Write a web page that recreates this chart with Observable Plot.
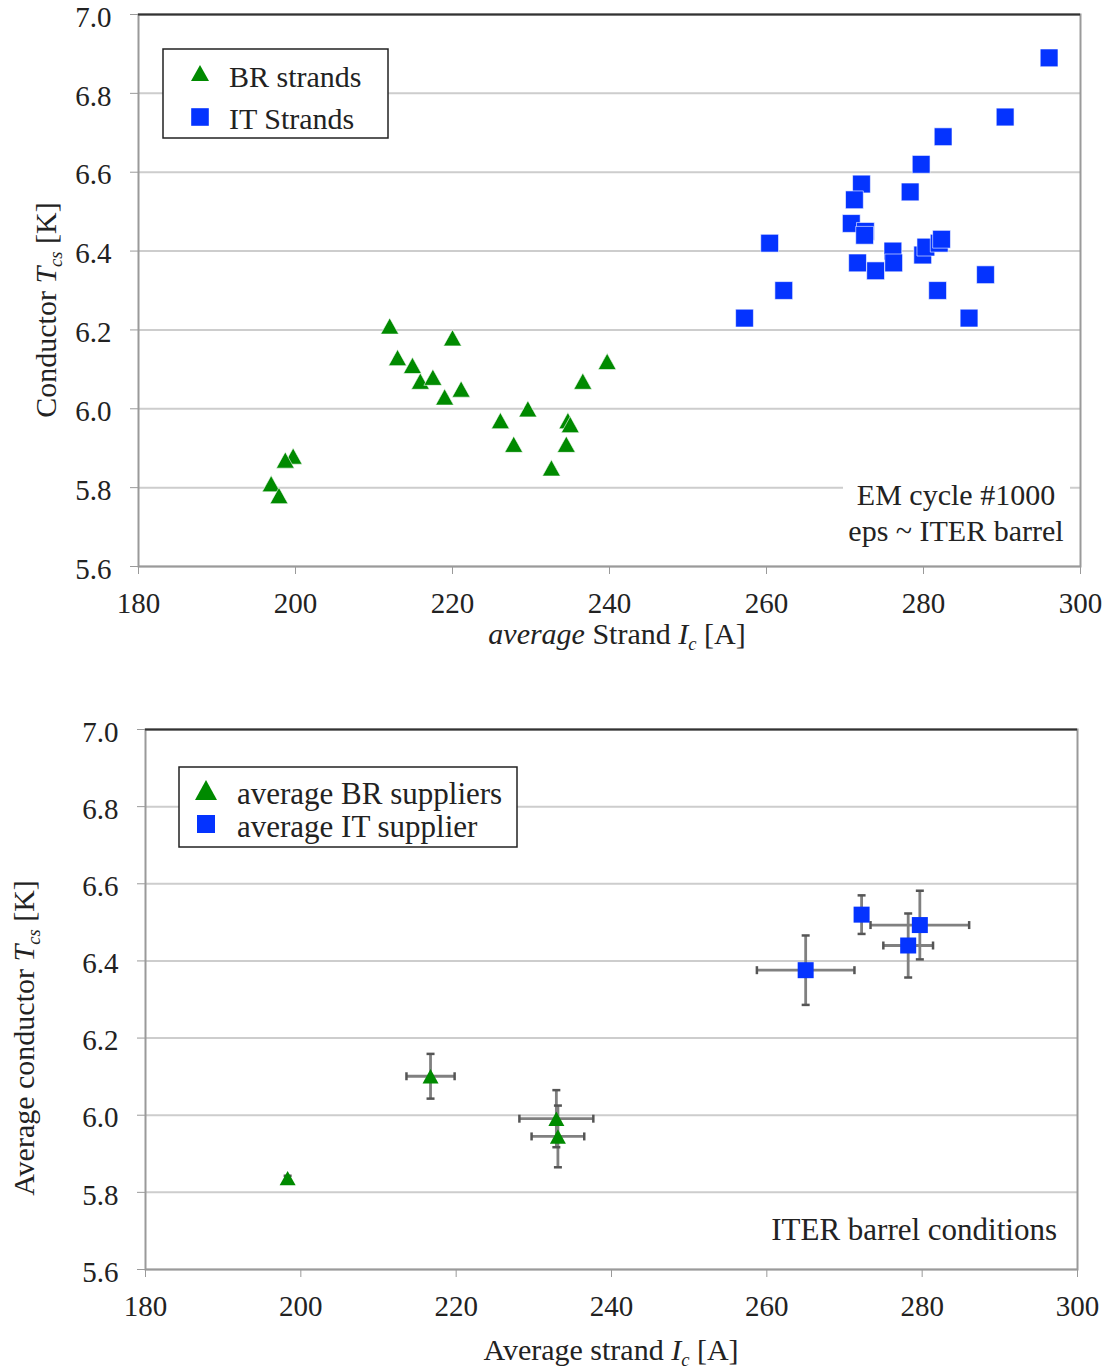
<!DOCTYPE html>
<html><head><meta charset="utf-8">
<script src="https://cdn.jsdelivr.net/npm/d3@7"></script>
<script src="https://cdn.jsdelivr.net/npm/@observablehq/plot@0.6"></script>
<style>
html,body{margin:0;padding:0;background:#fff;}
body{width:1109px;height:1371px;overflow:hidden;position:relative;font-family:"Liberation Serif",serif;}
#c1,#c2{position:absolute;left:0;overflow:hidden;}
#c1{top:0;height:655px;}
#c2{top:655px;height:716px;}
</style></head>
<body><div id="c1"></div><div id="c2"></div>
<script>
// ---------- data: top chart (individual strands) ----------
const brStrandIc  = [212.0,220.0,213.0,214.9,215.9,217.5,219.0,221.1,239.7,236.6,229.6,226.1,227.8,234.7,235.0,234.5,232.6,199.7,198.7,196.9,197.9];
const brStrandTcs = [6.21, 6.18, 6.13, 6.11, 6.07, 6.08, 6.03, 6.05, 6.12, 6.07, 6.00, 5.97, 5.91, 5.97, 5.96, 5.91, 5.85, 5.88, 5.87, 5.81, 5.78];
const itStrandIc  = [296.0,290.4,282.5,279.7,278.3,272.1,271.2,270.8,272.6,272.5,260.4,271.6,273.9,276.1,276.2,279.9,280.3,282.0,282.3,262.2,281.8,287.9,257.2,285.8];
const itStrandTcs = [6.89, 6.74, 6.69, 6.62, 6.55, 6.57, 6.53, 6.47, 6.45, 6.44, 6.42, 6.37, 6.35, 6.40, 6.37, 6.39, 6.41, 6.42, 6.43, 6.30, 6.30, 6.34, 6.23, 6.23];

// ---------- data: bottom chart (supplier averages with spread) ----------
const brAvgIc     = [216.7, 232.9, 233.1, 198.3];
const brAvgTcs    = [6.101, 5.991, 5.945, 5.837];
const brAvgIcErr  = [3.1,   4.76,  3.39,  0.37];
const brAvgTcsErr = [0.058, 0.074, 0.080, 0.006];
const itAvgIc     = [265.0, 272.2, 279.7, 278.2];
const itAvgTcs    = [6.376, 6.520, 6.493, 6.440];
const itAvgIcErr  = [6.28,  0.5,   6.35,  3.2];
const itAvgTcsErr = [0.090, 0.050, 0.089, 0.083];

// ---------- axes ----------
const xTicks = [180,200,220,240,260,280,300];
const yTicks = [5.6,5.8,6.0,6.2,6.4,6.6,6.8,7.0];

const GREEN = "#008a00", BLUE = "#0433ff", FONT = "'Liberation Serif', 'Times New Roman', serif";

// custom symbols (centred on their bounding box)
const triSym = {draw(ctx, size){const r=Math.sqrt(size/Math.PI); ctx.moveTo(0,-0.9*r); ctx.lineTo(r,0.9*r); ctx.lineTo(-r,0.9*r); ctx.closePath();}};
const sqSym  = {draw(ctx, size){const r=Math.sqrt(size/Math.PI); ctx.rect(-r,-r,2*r,2*r);}};
const hCap   = {draw(ctx, size){const r=Math.sqrt(size/Math.PI); ctx.moveTo(-r,0); ctx.lineTo(r,0);}};
const vCap   = {draw(ctx, size){const r=Math.sqrt(size/Math.PI); ctx.moveTo(0,-r); ctx.lineTo(0,r);}};

const toRows = (xs, ys) => xs.map((x,i)=>({ic:x, t:ys[i]}));
const toErrRows = (xs, ys, xe, ye) => xs.map((x,i)=>({ic:x, t:ys[i], ie:xe[i], te:ye[i]}));

function baseMarks(){
  return [
    Plot.gridY(yTicks, {stroke:"#cdcdcd", strokeOpacity:1, strokeWidth:2}),
    Plot.axisY({ticks:yTicks, tickSize:8, text:null, stroke:"#9a9a9a", label:null}),
    Plot.axisY({ticks:yTicks, tickFormat:d3.format(".1f"), tickSize:0, tickPadding:27, fill:"#222", fontSize:29, fontFamily:FONT, dy:3, label:null}),
    Plot.axisX({ticks:xTicks, tickFormat:d=>String(d), tickSize:8, tickPadding:18, stroke:"#9a9a9a", fill:"#222", fontSize:29, fontFamily:FONT, label:null}),
    Plot.frame({stroke:"#9a9a9a", strokeWidth:2}),
    Plot.ruleY([7.0], {stroke:"#333", strokeWidth:2})
  ];
}

function addRich(g, x, y, parts, opts={}){
  const size = opts.size||30;
  const t = g.append("text").attr("x",x).attr("y",y)
    .attr("font-family",FONT).attr("font-size",size).attr("fill","#222")
    .attr("text-anchor",opts.anchor||"start");
  if(opts.rotate) t.attr("transform",`rotate(${opts.rotate},${x},${y})`);
  for(const p of parts){
    const s = t.append("tspan").text(p.t);
    if(p.italic) s.attr("font-style","italic");
    if(p.sub){ s.attr("font-size",size*0.62).attr("dy",6); }
    if(p.after){ s.attr("dy",-6); }
  }
  return t;
}
function plainText(svg, x, y, str, anchor, size){
  return svg.append("text").attr("x",x).attr("y",y).attr("text-anchor",anchor)
    .attr("font-family",FONT).attr("font-size",size).attr("fill","#222").text(str);
}
function addLegend(svg, box, items, size){
  const g = svg.append("g");
  g.append("rect").attr("x",box.x).attr("y",box.y).attr("width",box.w).attr("height",box.h)
    .attr("fill","#fff").attr("stroke","#222").attr("stroke-width",1.5);
  for(const it of items){
    g.append("path").attr("transform",`translate(${it.sx},${it.sy})`)
      .attr("d", d3.symbol(it.sym, Math.PI*it.r*it.r)()).attr("fill",it.color);
    plainText(g, it.tx, it.ty, it.label, "start", size);
  }
}

// ---------- top chart ----------
const p1 = Plot.plot({
  width:1109, height:655,
  marginLeft:138, marginRight:29, marginTop:14, marginBottom:89,
  style:{fontFamily:FONT, fontSize:"29px", color:"#222", background:"#fff", overflow:"visible"},
  x:{domain:[180,300]}, y:{domain:[5.6,7.0]},
  marks:[
    ...baseMarks(),
    Plot.dot(toRows(brStrandIc, brStrandTcs), {x:"ic", y:"t", symbol:triSym, r:9, fill:GREEN, stroke:"#fff", strokeWidth:0.6}),
    Plot.dot(toRows(itStrandIc, itStrandTcs), {x:"ic", y:"t", symbol:sqSym, r:8.9, fill:BLUE, stroke:"#fff", strokeWidth:0.6})
  ]
});
document.getElementById("c1").appendChild(p1);
{
  const svg = d3.select(p1);
  svg.selectAll("text").attr("font-family", FONT);
  addLegend(svg, {x:163,y:49,w:225,h:89}, [
    {sym:triSym, r:9, color:GREEN, sx:200, sy:73, tx:229, ty:87, label:"BR strands"},
    {sym:sqSym, r:8.8, color:BLUE, sx:200, sy:117, tx:229, ty:129, label:"IT Strands"}
  ], 30);
  svg.append("rect").attr("x",843).attr("y",472).attr("width",227).attr("height",82).attr("fill","#fff");
  plainText(svg, 956, 505, "EM cycle #1000", "middle", 30);
  plainText(svg, 956, 541, "eps ~ ITER barrel", "middle", 30);
  addRich(svg, 617, 644, [{t:"average",italic:true},{t:" Strand "},{t:"I",italic:true},{t:"c",italic:true,sub:true},{t:" [A]",after:true}], {anchor:"middle", size:30});
  addRich(svg, 56, 310, [{t:"Conductor "},{t:"T",italic:true},{t:"cs",italic:true,sub:true},{t:" [K]",after:true}], {anchor:"middle", size:30, rotate:-90});
}

// ---------- bottom chart ----------
const brRows = toErrRows(brAvgIc, brAvgTcs, brAvgIcErr, brAvgTcsErr);
const itRows = toErrRows(itAvgIc, itAvgTcs, itAvgIcErr, itAvgTcsErr);
const errMarks = rows => [
  Plot.ruleX(rows, {x:"ic", y1:d=>d.t-d.te, y2:d=>d.t+d.te, stroke:"#808080", strokeWidth:2.8}),
  Plot.ruleY(rows, {y:"t", x1:d=>d.ic-d.ie, x2:d=>d.ic+d.ie, stroke:"#808080", strokeWidth:2.8}),
  Plot.dot(rows, {x:"ic", y:d=>d.t-d.te, symbol:hCap, r:4, fill:"none", stroke:"#555", strokeWidth:2.5}),
  Plot.dot(rows, {x:"ic", y:d=>d.t+d.te, symbol:hCap, r:4, fill:"none", stroke:"#555", strokeWidth:2.5}),
  Plot.dot(rows.filter(d=>d.ie>1), {x:d=>d.ic-d.ie, y:"t", symbol:vCap, r:4, fill:"none", stroke:"#555", strokeWidth:2.5}),
  Plot.dot(rows.filter(d=>d.ie>1), {x:d=>d.ic+d.ie, y:"t", symbol:vCap, r:4, fill:"none", stroke:"#555", strokeWidth:2.5})
];
const p2 = Plot.plot({
  width:1109, height:716,
  marginLeft:145, marginRight:32, marginTop:74, marginBottom:102,
  style:{fontFamily:FONT, fontSize:"29px", color:"#222", background:"#fff", overflow:"visible"},
  x:{domain:[180,300]}, y:{domain:[5.6,7.0]},
  marks:[
    ...baseMarks(),
    ...errMarks(brRows), ...errMarks(itRows),
    Plot.dot(brRows, {x:"ic", y:"t", symbol:triSym, r:8, fill:GREEN}),
    Plot.dot(itRows, {x:"ic", y:"t", symbol:sqSym, r:8, fill:BLUE})
  ]
});
document.getElementById("c2").appendChild(p2);
{
  const svg = d3.select(p2);
  svg.selectAll("text").attr("font-family", FONT);
  addLegend(svg, {x:179,y:112,w:338,h:80}, [
    {sym:triSym, r:11, color:GREEN, sx:206, sy:135, tx:237, ty:149, label:"average BR suppliers"},
    {sym:sqSym, r:9, color:BLUE, sx:206, sy:169, tx:237, ty:182, label:"average IT supplier"}
  ], 31);
  plainText(svg, 1057, 585, "ITER barrel conditions", "end", 31);
  addRich(svg, 611, 705, [{t:"Average strand "},{t:"I",italic:true},{t:"c",italic:true,sub:true},{t:" [A]",after:true}], {anchor:"middle", size:30});
  addRich(svg, 34, 383, [{t:"Average conductor "},{t:"T",italic:true},{t:"cs",italic:true,sub:true},{t:" [K]",after:true}], {anchor:"middle", size:30, rotate:-90});
}
</script>
</body></html>
